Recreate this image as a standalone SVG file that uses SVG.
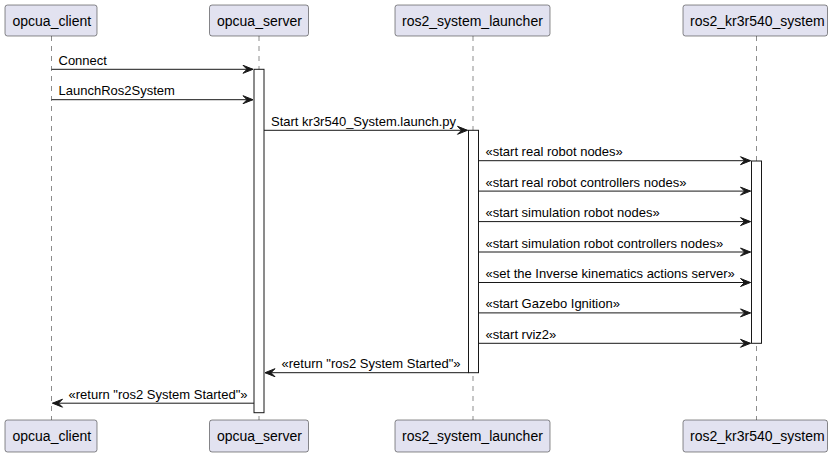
<svg xmlns="http://www.w3.org/2000/svg" width="835" height="457" viewBox="0 0 835 457">
<style>
.box{fill:#E2E2F0;stroke:#181818;stroke-width:0.5}
.pt{font-family:"Liberation Sans",Arial,sans-serif;font-size:14px;fill:#000}
.life{stroke:#181818;stroke-width:0.5;stroke-dasharray:5,5}
.act{fill:#FFFFFF;stroke:#181818;stroke-width:1}
.msg{stroke:#181818;stroke-width:1}
.head{fill:#181818;stroke:#181818;stroke-width:1}
.mt{font-family:"Liberation Sans",Arial,sans-serif;font-size:13px;fill:#000}
</style>
<rect width="835" height="457" fill="#FFFFFF"/>
<g id="lifelines">
<line class="life" x1="51.5" y1="36" x2="51.5" y2="420"/>
<line class="life" x1="259" y1="36" x2="259" y2="420"/>
<line class="life" x1="473" y1="36" x2="473" y2="420"/>
<line class="life" x1="756.5" y1="36" x2="756.5" y2="420"/>
</g>
<g id="opcua_client">
<rect class="box" x="5" y="5" width="92" height="31" rx="2.5" ry="2.5"/>
<text class="pt" x="12.5" y="25.5">opcua_client</text>
<rect class="box" x="5" y="420" width="92" height="32" rx="2.5" ry="2.5"/>
<text class="pt" x="12.5" y="441">opcua_client</text>
</g>
<g id="opcua_server">
<rect class="box" x="209.5" y="5" width="99" height="31" rx="2.5" ry="2.5"/>
<text class="pt" x="217" y="25.5">opcua_server</text>
<rect class="box" x="209.5" y="420" width="99" height="32" rx="2.5" ry="2.5"/>
<text class="pt" x="217" y="441">opcua_server</text>
<rect class="act" x="254" y="69.3" width="10" height="343.4"/>
</g>
<g id="ros2_system_launcher">
<rect class="box" x="395" y="5" width="155" height="31" rx="2.5" ry="2.5"/>
<text class="pt" x="402" y="25.5">ros2_system_launcher</text>
<rect class="box" x="395" y="420" width="155" height="32" rx="2.5" ry="2.5"/>
<text class="pt" x="402" y="441">ros2_system_launcher</text>
<rect class="act" x="468.5" y="130.3" width="10" height="242.4"/>
</g>
<g id="ros2_kr3r540_system">
<rect class="box" x="683" y="5" width="144.5" height="31" rx="2.5" ry="2.5"/>
<text class="pt" x="690" y="25.5">ros2_kr3r540_system</text>
<rect class="box" x="683" y="420" width="144.5" height="32" rx="2.5" ry="2.5"/>
<text class="pt" x="690" y="441">ros2_kr3r540_system</text>
<rect class="act" x="751.5" y="161" width="10" height="182.3"/>
</g>
<g id="connectors">
<line class="msg" x1="51.5" y1="69.3" x2="253" y2="69.3"/>
<polygon class="head" points="243,65.3 253,69.3 243,73.3 247,69.3"/>
<text class="mt" x="58.5" y="64.8">Connect</text>

<line class="msg" x1="51.5" y1="99.7" x2="253" y2="99.7"/>
<polygon class="head" points="243,95.7 253,99.7 243,103.7 247,99.7"/>
<text class="mt" x="58.5" y="95.2">LaunchRos2System</text>

<line class="msg" x1="264" y1="130.3" x2="467.5" y2="130.3"/>
<polygon class="head" points="457.5,126.3 467.5,130.3 457.5,134.3 461.5,130.3"/>
<text class="mt" x="271" y="125.8">Start kr3r540_System.launch.py</text>

<line class="msg" x1="478.5" y1="160.7" x2="750.5" y2="160.7"/>
<polygon class="head" points="740.5,156.7 750.5,160.7 740.5,164.7 744.5,160.7"/>
<text class="mt" x="485.5" y="156.2">«start real robot nodes»</text>

<line class="msg" x1="478.5" y1="191.1" x2="750.5" y2="191.1"/>
<polygon class="head" points="740.5,187.1 750.5,191.1 740.5,195.1 744.5,191.1"/>
<text class="mt" x="485.5" y="186.6">«start real robot controllers nodes»</text>

<line class="msg" x1="478.5" y1="221.6" x2="750.5" y2="221.6"/>
<polygon class="head" points="740.5,217.6 750.5,221.6 740.5,225.6 744.5,221.6"/>
<text class="mt" x="485.5" y="217.1">«start simulation robot nodes»</text>

<line class="msg" x1="478.5" y1="252" x2="750.5" y2="252"/>
<polygon class="head" points="740.5,248 750.5,252 740.5,256 744.5,252"/>
<text class="mt" x="485.5" y="247.5">«start simulation robot controllers nodes»</text>

<line class="msg" x1="478.5" y1="282.5" x2="750.5" y2="282.5"/>
<polygon class="head" points="740.5,278.5 750.5,282.5 740.5,286.5 744.5,282.5"/>
<text class="mt" x="485.5" y="278">«set the Inverse kinematics actions server»</text>

<line class="msg" x1="478.5" y1="312.9" x2="750.5" y2="312.9"/>
<polygon class="head" points="740.5,308.9 750.5,312.9 740.5,316.9 744.5,312.9"/>
<text class="mt" x="485.5" y="308.4">«start Gazebo Ignition»</text>

<line class="msg" x1="478.5" y1="343.3" x2="750.5" y2="343.3"/>
<polygon class="head" points="740.5,339.3 750.5,343.3 740.5,347.3 744.5,343.3"/>
<text class="mt" x="485.5" y="338.8">«start rviz2»</text>

<line class="msg" x1="265" y1="372.7" x2="468.5" y2="372.7"/>
<polygon class="head" points="275,368.7 265,372.7 275,376.7 271,372.7"/>
<text class="mt" x="281.5" y="368.2">«return "ros2 System Started"»</text>

<line class="msg" x1="52.5" y1="403.2" x2="254" y2="403.2"/>
<polygon class="head" points="62.5,399.2 52.5,403.2 62.5,407.2 58.5,403.2"/>
<text class="mt" x="68.5" y="398.7">«return "ros2 System Started"»</text>
</g>
</svg>
